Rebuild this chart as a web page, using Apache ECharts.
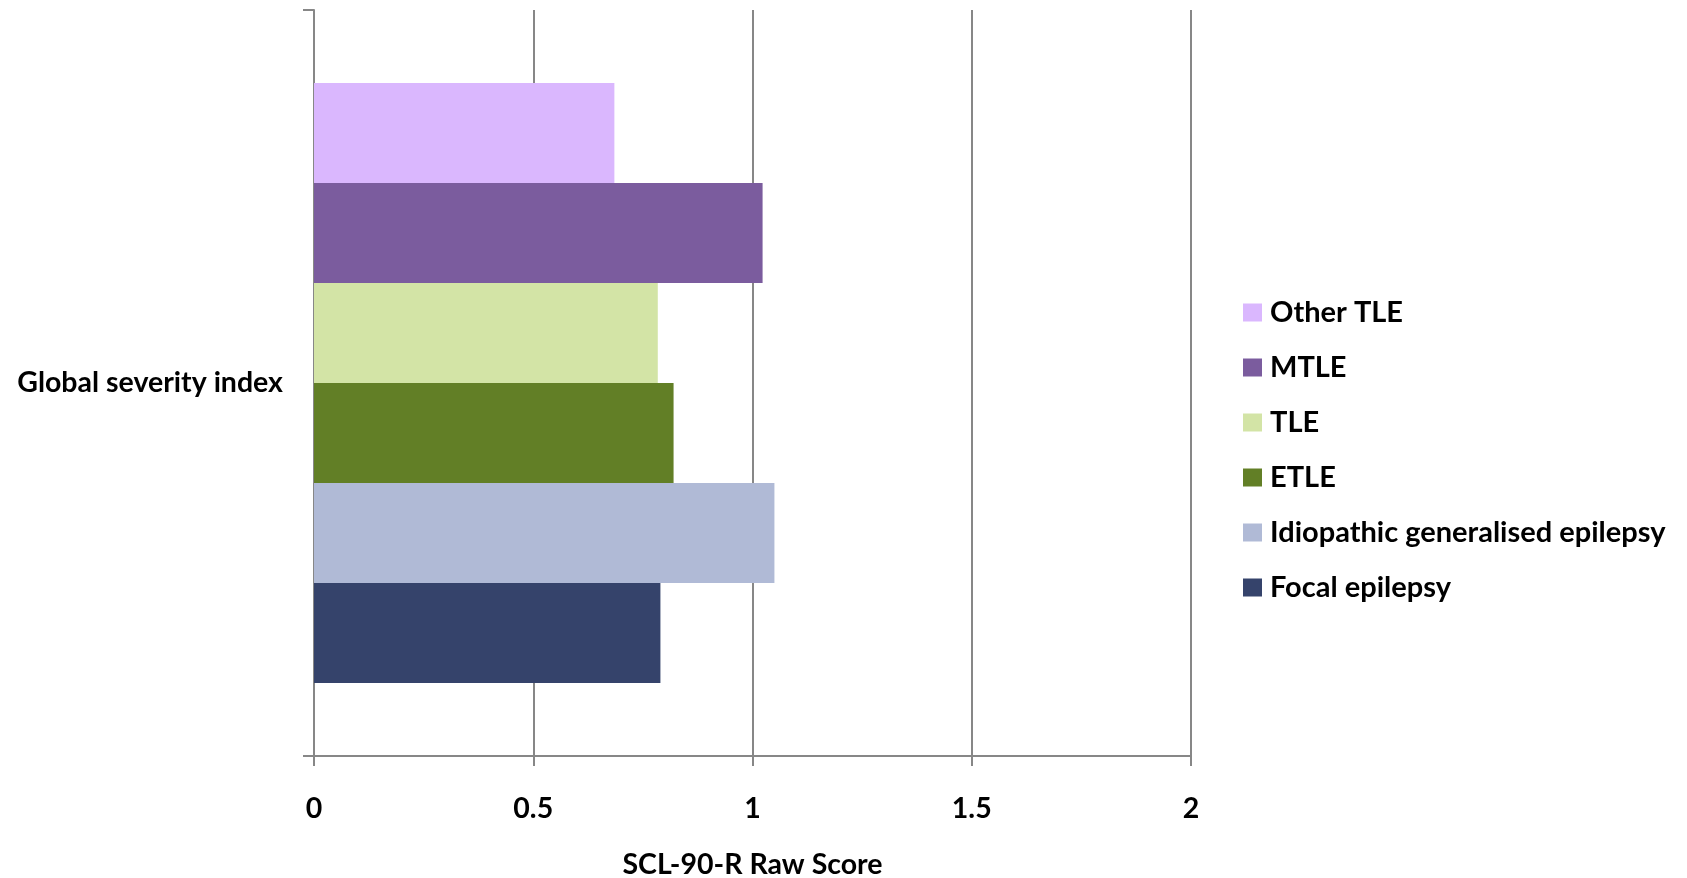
<!DOCTYPE html>
<html>
<head>
<meta charset="utf-8">
<script src="https://cdn.jsdelivr.net/npm/echarts@6/dist/echarts.min.js"></script>
<style>
  html, body { margin: 0; padding: 0; background: #fff; }
  #chart { width: 1687px; height: 878px; }
</style>
</head>
<body>
<div id="chart"></div>
<script>
// SCL-90-R global severity index by epilepsy group
const categories = ['Global severity index'];
const groupNames = ['Other TLE', 'MTLE', 'TLE', 'ETLE', 'Idiopathic generalised epilepsy', 'Focal epilepsy'];
const groupValues = [0.685, 1.023, 0.784, 0.82, 1.05, 0.79];
const groupColors = ['#dab7fe', '#7b5c9e', '#d3e4a6', '#627f26', '#b0bad6', '#35436b'];
const xTicks = { min: 0, max: 2, interval: 0.5 };

const fontFamily = 'Lato, "Open Sans", sans-serif';
const axisGray = '#878787';

const series = groupNames.map((name, i) => ({
  name: name,
  type: 'bar',
  data: [groupValues[i]],
  itemStyle: { color: groupColors[i] },
  barGap: '0%',
  barCategoryGap: '19.6%'
}));

const chart = echarts.init(document.getElementById('chart'), null, { renderer: 'canvas' });
chart.setOption({
  animation: false,
  backgroundColor: '#ffffff',
  grid: { left: 314, right: 496, top: 10, bottom: 122, containLabel: false, outerBoundsMode: 'none' },
  legend: {
    orient: 'vertical',
    left: 1243,
    top: 298,
    padding: 0,
    icon: 'rect',
    itemWidth: 19,
    itemHeight: 18,
    itemGap: 26,
    data: groupNames,
    textStyle: {
      fontFamily: fontFamily,
      fontWeight: 'bold',
      fontSize: 29,
      color: '#000',
      lineHeight: 27,
      padding: [0, 0, 0, 3]
    }
  },
  xAxis: {
    type: 'value',
    min: xTicks.min,
    max: xTicks.max,
    interval: xTicks.interval,
    name: 'SCL-90-R Raw Score',
    nameLocation: 'middle',
    nameGap: 94,
    nameTextStyle: { fontFamily: fontFamily, fontWeight: 'bold', fontSize: 28.5, color: '#000' },
    axisLine: { show: true, lineStyle: { color: axisGray, width: 2 } },
    axisTick: { show: true, length: 10, lineStyle: { color: axisGray, width: 2 } },
    axisLabel: {
      margin: 38,
      fontFamily: fontFamily,
      fontWeight: 'bold',
      fontSize: 28.5,
      color: '#000',
      formatter: v => String(v)
    },
    splitLine: { show: true, lineStyle: { color: axisGray, width: 2 } }
  },
  yAxis: {
    type: 'category',
    data: categories,
    axisLine: { show: true, lineStyle: { color: axisGray, width: 2 } },
    axisTick: { show: true, length: 11, lineStyle: { color: axisGray, width: 2 } },
    axisLabel: {
      margin: 31,
      fontFamily: fontFamily,
      fontWeight: 'bold',
      fontSize: 28.5,
      color: '#000',
      padding: [6, 0, 0, 0]
    },
    splitLine: { show: false }
  },
  series: series
});
</script>
</body>
</html>
